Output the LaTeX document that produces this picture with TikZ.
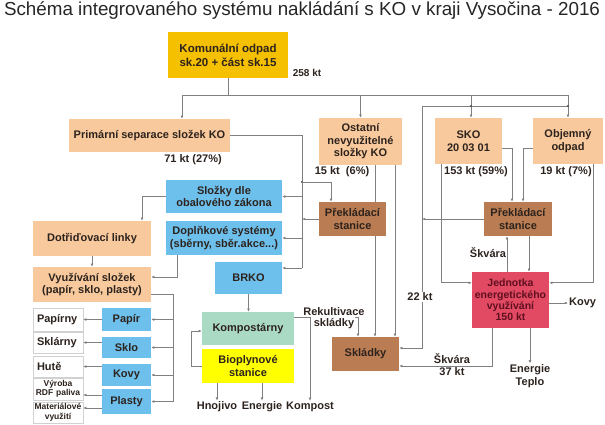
\documentclass[tikz,border=0pt]{standalone}
\usepackage{fontspec}
\setmainfont{Liberation Sans}
\usepackage{tikz}
\usetikzlibrary{arrows.meta}
\definecolor{cGold}{RGB}{245,192,0}
\definecolor{cPeach}{RGB}{248,201,156}
\definecolor{cBlue}{RGB}{110,192,236}
\definecolor{cBrown}{RGB}{186,124,82}
\definecolor{cGreen}{RGB}{170,218,196}
\definecolor{cYellow}{RGB}{255,255,0}
\definecolor{cRed}{RGB}{226,74,100}
\definecolor{cLine}{RGB}{128,128,128}
\definecolor{cText}{RGB}{45,35,30}
\definecolor{cRedText}{RGB}{95,15,30}

\begin{document}
\begin{tikzpicture}[x=1pt,y=-1pt,font=\bfseries\fontsize{11}{12.5}\selectfont,text=cText,
  box/.style={inner sep=0pt,align=center},
  lbl/.style={inner sep=1pt,align=center},
  wbox/.style={draw=black!18,fill=white,inner ysep=0pt,inner xsep=4pt,text width=42pt,align=left,minimum height=21pt},
  wboxs/.style={draw=black!18,fill=white,inner sep=0pt,text width=50pt,align=center,minimum height=21pt,font=\bfseries\fontsize{8.5}{9.5}\selectfont},
  ln/.style={draw=cLine,line width=0.8pt},
  arr/.style={ln,-{Latex[length=3.2pt,width=2.8pt]}},
  dot/.style={circle,fill=black!70,inner sep=0pt,minimum size=2.4pt}]
\useasboundingbox (0,0) rectangle (605,424);

\node[font=\fontsize{18.8}{20}\selectfont,text=black!85] (title) at (302,11) {Schéma integrovaného systému nakládání s KO v kraji Vysočina - 2016};

\node[box,fill=cGold,minimum width=120pt,minimum height=46pt,font=\bfseries\fontsize{11.5}{14}\selectfont] (kom) at (228,55) {Komunální odpad\\sk.20 + část sk.15};
\node[lbl,font=\bfseries\fontsize{10}{12}\selectfont] (kt258) at (307,73) {258 kt};

\node[box,fill=cPeach,minimum width=161pt,minimum height=33pt] (prim) at (149.5,135.5) {Primární separace složek KO};
\node[box,fill=cPeach,minimum width=83pt,minimum height=47pt] (ost) at (360.5,141.5) {Ostatní\\nevyužitelné\\složky KO};
\node[box,fill=cPeach,minimum width=67pt,minimum height=46pt] (sko) at (468.5,141) {SKO\\20 03 01};
\node[box,fill=cPeach,minimum width=70pt,minimum height=46pt] (obj) at (568,141) {Objemný\\odpad};
\node[lbl] (kt71) at (193,160) {71 kt (27\%)};
\node[lbl] (kt15) at (342,172) {15 kt\ \ (6\%)};
\node[lbl] (kt153) at (476,172) {153 kt (59\%)};
\node[lbl] (kt19) at (566,172) {19 kt (7\%)};

\node[box,fill=cBlue,minimum width=116pt,minimum height=33pt] (slozky) at (224,196.5) {Složky dle\\obalového zákona};
\node[box,fill=cBlue,minimum width=116pt,minimum height=34pt] (dopl) at (224,238) {Doplňkové systémy\\(sběrny, sběr.akce...)};
\node[box,fill=cBlue,minimum width=67pt,minimum height=32pt] (brko) at (248.5,278) {BRKO};
\node[box,fill=cPeach,minimum width=118pt,minimum height=35pt] (dotr) at (92,238.5) {Dotřiďovací linky};
\node[box,fill=cPeach,minimum width=118pt,minimum height=35pt] (vyuz) at (92,284.5) {Využívání složek\\(papír, sklo, plasty)};

\node[box,fill=cBrown,minimum width=67pt,minimum height=34pt] (prekL) at (352.5,219) {Překládací\\stanice};
\node[box,fill=cBrown,minimum width=68pt,minimum height=34pt] (prekR) at (518,219) {Překládací\\stanice};
\node[box,fill=cRed,minimum width=77pt,minimum height=56pt,text=cRedText,font=\bfseries\fontsize{10.5}{11.3}\selectfont] (jedn) at (510.5,300) {Jednotka\\energetického\\využívání\\150 kt};
\node[box,fill=cBrown,minimum width=67pt,minimum height=34pt] (skl) at (365.5,354) {Skládky};
\node[box,fill=cGreen,minimum width=92pt,minimum height=33pt] (komp) at (248,328.5) {Kompostárny};
\node[box,fill=cYellow,minimum width=92pt,minimum height=34pt] (biop) at (248,366) {Bioplynové\\stanice};

\node[box,fill=cBlue,minimum width=49pt,minimum height=23pt] (papir) at (126.5,319.5) {Papír};
\node[box,fill=cBlue,minimum width=49pt,minimum height=21pt] (sklo) at (126.5,347.5) {Sklo};
\node[box,fill=cBlue,minimum width=49pt,minimum height=22pt] (kovy) at (126.5,375) {Kovy};
\node[box,fill=cBlue,minimum width=49pt,minimum height=25pt] (plasty) at (126.5,401.5) {Plasty};
\node[wbox,minimum height=23pt] (papirny) at (58,319.5) {Papírny};
\node[wbox] (sklarny) at (58,342.5) {Sklárny};
\node[wbox] (hute) at (58,366.5) {Hutě};
\node[wboxs,minimum height=22pt] (vyroba) at (58,389) {Výroba\\RDF paliva};
\node[wboxs] (mater) at (58,412.5) {Materiálové\\využití};

\node[lbl] (rek1) at (334,312) {Rekultivace};
\node[lbl] (rek2) at (334,324) {skládky};
\node[lbl] (hnoj) at (217,407) {Hnojivo};
\node[lbl] (ener) at (262,407) {Energie};
\node[lbl] (kompost) at (310,407) {Kompost};
\node[lbl] (skv1) at (488,253) {Škvára};
\node[lbl] (skv2) at (452,359) {Škvára};
\node[lbl] (kt37) at (452,372) {37 kt};
\node[lbl,anchor=west] (kovyOut) at (568,303) {Kovy};
\node[lbl] (enT) at (530,376) {Energie\\Teplo};

\coordinate (busL) at (182,95);
\coordinate (busS) at (471,95);
\coordinate (busR) at (568,95);
\coordinate (sec) at (422,106);
\draw[ln] (kom.south) -- (kom.south|-busL);
\draw[ln] (busL) -- (busR);
\draw[arr] (busL) -- (busL|-prim.north);
\draw[arr] (ost.north|-busL) -- (ost.north);
\draw[arr] (busS) -- (busS|-sko.north);
\draw[arr] (busR) -- (obj.north);
\draw[arr] (busR|-sec) -- (sec) |- ([yshift=6pt]skl.east);
\node[dot] (d1) at (busS|-sec) {};
\node[dot] (d2) at (busR|-sec) {};
\node[lbl,fill=white] (kt22) at (420,297) {22 kt};

\draw[arr] ([yshift=-7pt]sko.east) -| ([xshift=-6pt]prekR.north);
\draw[arr] ([yshift=-7pt]obj.west) -| ([xshift=5pt]prekR.north);
\draw[arr] (prekR.west) -- (sec|-prekR.west);
\draw[arr] ([xshift=7pt]sko.south west) |- ([yshift=-11pt]jedn.north west);
\draw[arr] ([xshift=-10pt]obj.south east) |- ([yshift=-11pt]jedn.north east);
\draw[arr] ([xshift=11pt]prekR.south) -- ([xshift=11pt]prekR.south|-jedn.north);
\draw[arr] ([xshift=-11pt]prekR.south|-jedn.north) -- ([xshift=-11pt]prekR.south);
\draw[arr] ([yshift=-3pt]jedn.east) -- (kovyOut.west);
\draw[arr] ([xshift=-18.5pt]jedn.south) |- ([yshift=-12pt]skl.east);
\draw[arr] ([xshift=19.5pt]jedn.south) -- (enT.north);

\draw[ln] ([xshift=14.5pt]ost.south) -- ([xshift=14.5pt]ost.south|-prekL.north);
\draw[arr] ([xshift=14.5pt]ost.south|-prekL.south) -- ([xshift=14.5pt]ost.south|-skl.north);
\draw[arr] ([xshift=34.5pt]ost.south) -- ([xshift=34.5pt]ost.south|-skl.north);

\coordinate (pbT) at (302,135.5);
\coordinate (pbB) at (302,268);
\coordinate (pj) at (302,182);
\draw[ln] (prim.east) -- (pbT) -- (pbB);
\draw[arr] (pbB) -- (pbB-|brko.east);
\draw[arr] (pbT|-slozky.east) -- (slozky.east);
\draw[arr] (pbT|-dopl.east) -- (dopl.east);
\node[dot] (d0) at (pj) {};
\draw[arr] (pj) -| ([xshift=-21.5pt]prekL.north);
\draw[arr] (prekL.west) -- (prekL.west-|pbT);

\draw[arr] (slozky.west) -| ([xshift=50pt]dotr.north);
\draw[arr] (dotr.south) -- (vyuz.north);
\draw[arr] ([xshift=-47pt]dopl.south) |- ([yshift=7.5pt]vyuz.east);
\coordinate (vb) at (173,294);
\draw[ln] ([yshift=-9.5pt]vyuz.east) -- (vb) -- (vb|-plasty.east);
\draw[arr] (vb|-papir.east) -- (papir.east);
\draw[arr] (vb|-sklo.east) -- (sklo.east);
\draw[arr] (vb|-kovy.east) -- (kovy.east);
\draw[arr] (vb|-plasty.east) -- (plasty.east);

\coordinate (vyrE) at ([yshift=-6pt]vyroba.east);
\coordinate (matE) at ([yshift=4.5pt]mater.east);
\draw[arr] (papir.west) -- (papirny.east);
\draw[arr] (sklo.west|-sklarny.east) -- (sklarny.east);
\draw[arr] (kovy.west|-hute.east) -- (hute.east);
\draw[arr] (plasty.west|-vyrE) -- (vyrE);
\draw[arr] (plasty.west|-matE) -- (matE);

\draw[arr] (brko.south) -- (brko.south|-komp.north);
\draw[arr] (biop.west) -- ++(-10,0) |- ([yshift=-2.5pt]komp.west);
\draw[arr] ([xshift=-31pt]biop.south) -- (hnoj.north);
\draw[arr] ([xshift=14pt]biop.south) -- (ener.north);
\coordinate (kompJ) at (310,317);
\draw[ln] ([yshift=11.5pt]komp.east) -- (kompJ);
\draw[arr] (kompJ) -- (kompost.north);
\draw[arr] (rek2.east|-kompJ) -| ([xshift=-7.5pt]skl.north);
\end{tikzpicture}
\end{document}
